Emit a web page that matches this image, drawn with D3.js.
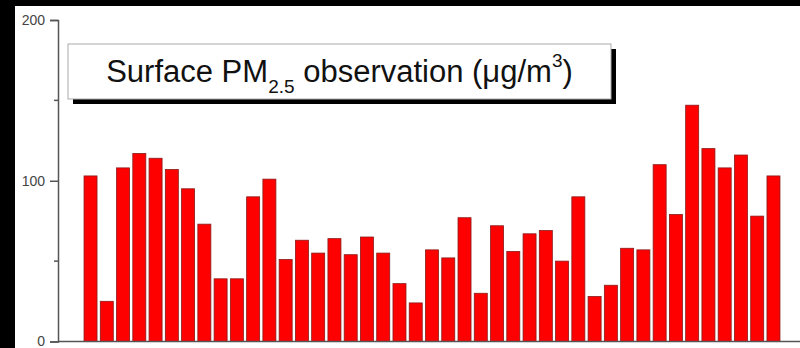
<!DOCTYPE html>
<html>
<head>
<meta charset="utf-8">
<script src="https://cdn.jsdelivr.net/npm/d3@7"></script>
<style>
  body{margin:0;background:#000;}
  svg{display:block;}
</style>
</head>
<body>
<div id="lineContainer"></div>
<script>

var days=d3.range(1,44);

var pm25=[103,25,108,117,114,107,95,73,39,39,
          90,101,51,63,55,64,54,65,55,36,
          24,57,52,77,30,72,56,67,69,50,
          90,28,35,58,57,110,79,147,120,108,
          116,78,103];

var yTicks=[0,100,200];
var yMinorTicks=[50,150];

var titleMain="Surface PM";
var titleSub="2.5";
var titleRest=" observation (\u03bcg/m";
var titleSup="3";
var titleEnd=")";

var width=800,height=348;
var margin={top:20,right:0,bottom:6.5,left:58};

var svg=d3.select('#lineContainer')
          .append('svg')
          .attr('width',width)
          .attr('height',height);

svg.append('rect')
   .attr('width',width)
   .attr('height',height)
   .attr('fill','#000');

svg.append('rect')
   .attr('x',15)
   .attr('y',6)
   .attr('width',width-15)
   .attr('height',height-6)
   .attr('fill','#fff');

var xScale=d3.scaleBand()
             .domain(days)
             .range([82.4,781.6])
             .paddingInner(0.2)
             .paddingOuter(0.1);

var yScale=d3.scaleLinear()
             .domain([0,200])
             .range([height-margin.bottom,margin.top]);

var chart=svg.append('g');

// bars
chart.selectAll('.bar')
     .data(pm25)
     .enter()
     .append('rect')
     .attr('class','bar')
     .attr('x',function(d,i){ return xScale(days[i]); })
     .attr('y',function(d){ return yScale(d); })
     .attr('width',xScale.bandwidth())
     .attr('height',function(d){ return yScale(0)-yScale(d); })
     .attr('fill','#ff0000')
     .attr('stroke','#8a1a1a')
     .attr('stroke-width',0.8);

// x axis: only the base line, no ticks
chart.append('line')
     .attr('x1',margin.left)
     .attr('x2',width)
     .attr('y1',yScale(0))
     .attr('y2',yScale(0))
     .attr('stroke','#555')
     .attr('stroke-width',1.5);

// y axis
var yAxis=chart.append('g')
     .attr('class','axis y')
     .attr('transform','translate('+margin.left+',0)')
     .call(d3.axisLeft(yScale).tickValues(yTicks).tickSize(8).tickPadding(5));

yAxis.select('.domain').attr('stroke','#555').attr('stroke-width',1.5);
yAxis.selectAll('.tick line').attr('stroke','#555').attr('stroke-width',1.5);
yAxis.selectAll('.tick text')
     .attr('fill','#444')
     .style('font-family','Liberation Sans, Arial, sans-serif')
     .style('font-size','14px');

chart.append('g')
     .attr('transform','translate('+margin.left+',0)')
     .selectAll('line')
     .data(yMinorTicks)
     .enter()
     .append('line')
     .attr('x1',-4)
     .attr('x2',0)
     .attr('y1',function(d){ return yScale(d); })
     .attr('y2',function(d){ return yScale(d); })
     .attr('stroke','#555')
     .attr('stroke-width',1.5);

// title box with shadow
var box={x:68,y:44,w:543,h:55};

svg.append('rect')
   .attr('x',box.x+5)
   .attr('y',box.y+5)
   .attr('width',box.w)
   .attr('height',box.h)
   .attr('fill','#000');

svg.append('rect')
   .attr('x',box.x)
   .attr('y',box.y)
   .attr('width',box.w)
   .attr('height',box.h)
   .attr('fill','#fff')
   .attr('stroke','#aaa')
   .attr('stroke-width',1);

var title=svg.append('text')
   .attr('x',box.x+box.w/2)
   .attr('y',81.5)
   .attr('text-anchor','middle')
   .attr('fill','#111')
   .style('font-family','Liberation Sans, Arial, sans-serif')
   .style('font-size','31px');

title.append('tspan').text(titleMain);
title.append('tspan').attr('dy',11).style('font-size','19px').text(titleSub);
title.append('tspan').attr('dy',-11).text(titleRest);
title.append('tspan').attr('dy',-15).style('font-size','19px').text(titleSup);
title.append('tspan').attr('dy',15).text(titleEnd);

</script>
</body>
</html>
